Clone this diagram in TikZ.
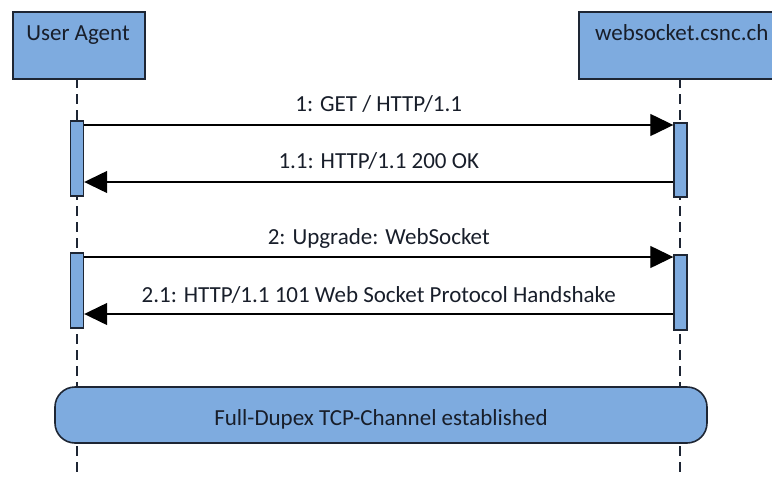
\documentclass[tikz,border=0pt]{standalone}
\usepackage{fontspec}
\setmainfont{Carlito}
\usetikzlibrary{arrows.meta}
\definecolor{boxfill}{RGB}{126,171,223}
\definecolor{boxdraw}{RGB}{30,38,52}
\tikzset{
  actor/.style={draw=boxdraw, fill=boxfill, line width=1.6pt, anchor=north west, inner sep=0pt},
  actbar/.style={draw=boxdraw, fill=boxfill, line width=1.4pt, minimum width=13pt, inner sep=0pt},
  life/.style={draw=boxdraw, line width=1.4pt, dash pattern=on 10pt off 6pt},
  msg/.style={draw=black, line width=1.3pt, -{Triangle[length=23pt,width=22pt]}},
  lbl/.style={font=\fontsize{23}{27}\selectfont, text=boxdraw!80!black, inner sep=0pt},
}
\begin{document}
\begin{tikzpicture}[x=1pt,y=-1pt]
\useasboundingbox (0,0) rectangle (772,477);
\begin{scope}
\clip (0,0) rectangle (772,477);
% actors
\node[actor, minimum width=132pt, minimum height=67pt] (ua) at (12,11) {};
\node[lbl] (uat) at (78,35) {User Agent};
\node[actor, minimum width=210pt, minimum height=67pt] (ws) at (578,11) {};
\node[lbl, anchor=west] (wst) at (595,33) {websocket.csnc.ch};
% lifelines
\coordinate (uaL) at (77,78);
\coordinate (uaE) at (77,477);
\coordinate (wsL) at (680,78);
\coordinate (wsE) at (680,477);
\draw[life] (uaL) -- (uaE);
\draw[life] (wsL) -- (wsE);
% activations
\node[actbar, minimum height=75pt] (a1) at (77,158.5) {};
\node[actbar, minimum height=74pt] (b1) at (680.5,160) {};
\node[actbar, minimum height=75pt] (a2) at (77,290.5) {};
\node[actbar, minimum height=75pt] (b2) at (680.5,292.5) {};
% messages
\draw[msg] (a1.north east |- 0,125) -- node[lbl, above=12pt] {1: GET / HTTP/1.1} (b1.north west |- 0,125);
\draw[msg] (b1.west |- 0,182) -- node[lbl, above=12pt] {1.1: HTTP/1.1 200 OK} (a1.east |- 0,182);
\draw[msg] (a2.east |- 0,257) -- node[lbl, above=8pt] {2: Upgrade: WebSocket} (b2.west |- 0,257);
\draw[msg] (b2.west |- 0,314) -- node[lbl, above=10pt] {2.1: HTTP/1.1 101 Web Socket Protocol Handshake} (a2.east |- 0,314);
% channel
\node[draw=boxdraw, fill=boxfill, line width=1.6pt, rounded corners=20pt, minimum width=652pt, minimum height=56pt, inner sep=0pt] (ch) at (381,415) {};
\node[lbl] (chl) at (381,419) {Full-Dupex TCP-Channel established};
\end{scope}
\end{tikzpicture}
\end{document}
